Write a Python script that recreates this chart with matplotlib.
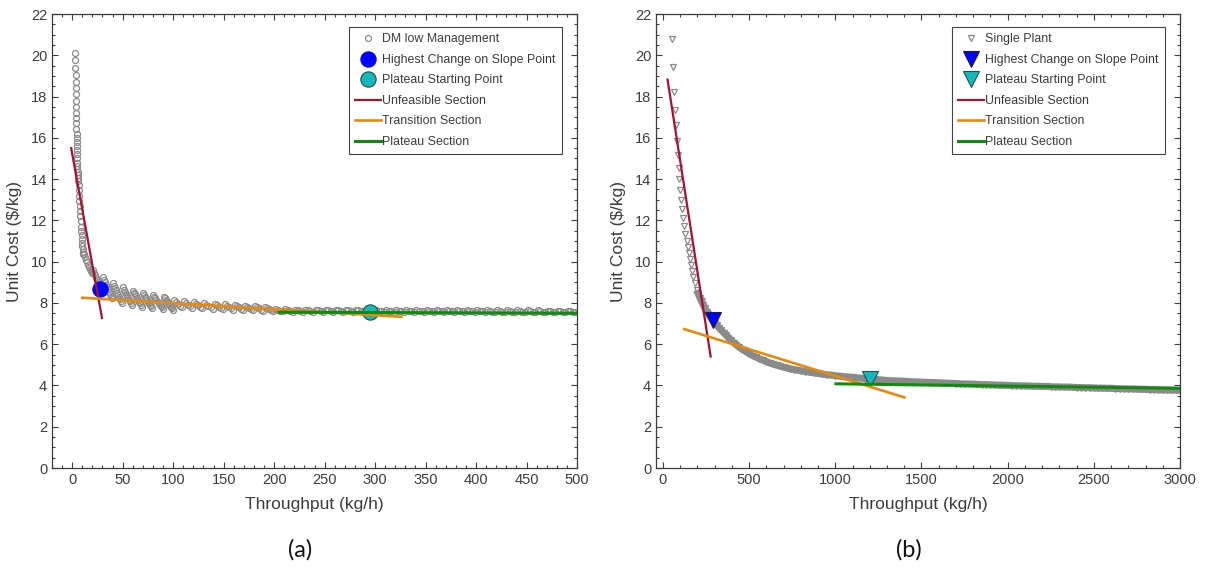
import matplotlib
matplotlib.use("Agg")
import matplotlib.pyplot as plt
from matplotlib.ticker import MultipleLocator

plt.rcParams["font.family"] = ["Liberation Sans", "DejaVu Sans"]

# ---------------- panel (a): DM low Management ----------------
a_steep_x = [3.0, 3.1, 3.2, 3.3, 3.4, 3.5, 3.6, 3.7, 3.8, 3.9, 4.0, 4.1, 4.2,
             4.3, 4.4, 4.5, 4.6, 4.7, 4.8, 4.9, 5.0, 5.1, 5.2, 5.3, 5.4, 5.5]
a_steep_y = [20.1, 19.75, 19.4, 19.05, 18.7, 18.4, 18.1, 17.8, 17.5, 17.2, 16.95,
             16.7, 16.45, 16.2, 16.0, 15.8, 15.6, 15.4, 15.2, 15.0, 14.8, 14.65,
             14.5, 14.35, 14.2, 14.05]
a_band_x = [6.0, 6.3, 6.6, 6.9, 7.2, 7.5, 7.8, 8.1, 8.4, 8.7, 9.0, 9.3, 9.6, 9.9,
            10.2, 10.5, 10.8, 11.1, 11.5, 12.5, 13.5, 14.5, 15.5, 16.5, 17.5,
            18.5, 19.5]
a_band_y = [13.9, 13.7, 13.45, 13.2, 12.95, 12.7, 12.45, 12.2, 11.95, 11.7, 11.5,
            11.3, 11.1, 10.9, 10.75, 10.6, 10.45, 10.35, 10.35, 10.22, 10.1, 9.98,
            9.86, 9.75, 9.64, 9.53, 9.43]
a_teeth_x = [20.5, 21.5, 22.5, 23.5, 24.5, 25.5, 26.5, 27.5, 28.5, 29.5,
             30.5, 31.5, 32.5, 33.5, 34.5, 35.5, 36.5, 37.5, 38.5, 39.5,
             40.5, 41.5, 42.5, 43.5, 44.5, 45.5, 46.5, 47.5, 48.5, 49.5,
             50.5, 51.5, 52.5, 53.5, 54.5, 55.5, 56.5, 57.5, 58.5, 59.5,
             60.5, 61.5, 62.5, 63.5, 64.5, 65.5, 66.5, 67.5, 68.5, 69.5,
             70.5, 71.5, 72.5, 73.5, 74.5, 75.5, 76.5, 77.5, 78.5, 79.5,
             80.5, 81.5, 82.5, 83.5, 84.5, 85.5, 86.5, 87.5, 88.5, 89.5,
             90.5, 91.5, 92.5, 93.5, 94.5, 95.5, 96.5, 97.5, 98.5, 99.5]
a_teeth_y = [9.60, 9.47, 9.35, 9.23, 9.12, 9.01, 8.90, 8.80, 8.70, 8.60,
             9.25, 9.12, 9.00, 8.88, 8.77, 8.66, 8.55, 8.45, 8.35, 8.25,
             8.95, 8.83, 8.72, 8.61, 8.50, 8.40, 8.30, 8.20, 8.10, 8.00,
             8.75, 8.64, 8.54, 8.44, 8.34, 8.25, 8.16, 8.07, 7.98, 7.90,
             8.60, 8.50, 8.41, 8.32, 8.23, 8.14, 8.06, 7.98, 7.90, 7.82,
             8.48, 8.39, 8.31, 8.22, 8.14, 8.06, 7.98, 7.91, 7.84, 7.77,
             8.38, 8.30, 8.22, 8.14, 8.06, 7.99, 7.92, 7.85, 7.78, 7.72,
             8.30, 8.22, 8.14, 8.07, 8.00, 7.93, 7.86, 7.79, 7.73, 7.67]
a_mid_x = [101, 103, 105, 107, 109, 111, 113, 115, 117, 119,
           121, 123, 125, 127, 129, 131, 133, 135, 137, 139,
           141, 143, 145, 147, 149, 151, 153, 155, 157, 159,
           161, 163, 165, 167, 169, 171, 173, 175, 177, 179,
           181, 183, 185, 187, 189, 191, 193, 195, 197, 199]
a_mid_y = [8.12, 8.03, 7.94, 7.86, 7.78, 8.08, 7.99, 7.91, 7.83, 7.76,
           8.04, 7.96, 7.88, 7.81, 7.74, 8.00, 7.92, 7.85, 7.78, 7.72,
           7.96, 7.89, 7.82, 7.76, 7.70, 7.93, 7.86, 7.80, 7.74, 7.68,
           7.90, 7.84, 7.78, 7.72, 7.66, 7.87, 7.81, 7.75, 7.70, 7.64,
           7.84, 7.78, 7.73, 7.68, 7.62, 7.82, 7.76, 7.71, 7.66, 7.60]
a_flat_x = [201, 203.5, 206, 208.5, 211, 213.5, 216, 218.5, 221, 223.5, 226, 228.5,
            231, 233.5, 236, 238.5, 241, 243.5, 246, 248.5, 251, 253.5, 256, 258.5,
            261, 263.5, 266, 268.5, 271, 273.5, 276, 278.5, 281, 283.5, 286, 288.5,
            291, 293.5, 296, 298.5, 301, 303.5, 306, 308.5, 311, 313.5, 316, 318.5,
            321, 323.5, 326, 328.5, 331, 333.5, 336, 338.5, 341, 343.5, 346, 348.5,
            351, 353.5, 356, 358.5, 361, 363.5, 366, 368.5, 371, 373.5, 376, 378.5,
            381, 383.5, 386, 388.5, 391, 393.5, 396, 398.5, 401, 403.5, 406, 408.5,
            411, 413.5, 416, 418.5, 421, 423.5, 426, 428.5, 431, 433.5, 436, 438.5,
            441, 443.5, 446, 448.5, 451, 453.5, 456, 458.5, 461, 463.5, 466, 468.5,
            471, 473.5, 476, 478.5, 481, 483.5, 486, 488.5, 491, 493.5, 496, 498.5]
a_flat_y = [7.70, 7.66, 7.62, 7.59, 7.69, 7.65, 7.61, 7.58, 7.68, 7.64, 7.61, 7.58,
            7.68, 7.64, 7.61, 7.58, 7.68, 7.64, 7.61, 7.58, 7.68, 7.64, 7.61, 7.58,
            7.67, 7.64, 7.61, 7.58, 7.67, 7.64, 7.61, 7.58, 7.67, 7.64, 7.61, 7.58,
            7.67, 7.63, 7.60, 7.58, 7.67, 7.63, 7.60, 7.57, 7.67, 7.63, 7.60, 7.57,
            7.66, 7.63, 7.60, 7.57, 7.66, 7.63, 7.60, 7.57, 7.66, 7.63, 7.60, 7.57,
            7.66, 7.62, 7.59, 7.57, 7.66, 7.62, 7.59, 7.56, 7.65, 7.62, 7.59, 7.56,
            7.65, 7.62, 7.59, 7.56, 7.65, 7.62, 7.59, 7.56, 7.65, 7.62, 7.59, 7.56,
            7.65, 7.61, 7.58, 7.56, 7.64, 7.61, 7.58, 7.55, 7.64, 7.61, 7.58, 7.55,
            7.64, 7.61, 7.58, 7.55, 7.64, 7.61, 7.58, 7.55, 7.64, 7.61, 7.58, 7.55,
            7.63, 7.60, 7.57, 7.55, 7.63, 7.60, 7.57, 7.55, 7.63, 7.60, 7.57, 7.54]
a_x = a_steep_x + a_band_x + a_teeth_x + a_mid_x + a_flat_x
a_y = a_steep_y + a_band_y + a_teeth_y + a_mid_y + a_flat_y

a_slope_pt = (28, 8.65)
a_plateau_pt = (295, 7.58)
a_unfeasible = ([-1, 29.5], [15.5, 7.27])
a_transition = ([10, 326], [8.25, 7.33])
a_plateau = ([205, 500], [7.55, 7.5])

# ---------------- panel (b): Single Plant ----------------
b_x = [54, 60, 66, 71, 76, 81, 86, 91, 96, 101, 107, 113, 119, 125, 131, 137,
       143, 149, 155, 162, 169, 176, 185, 195, 204, 214, 224, 234, 244, 254,
       264, 276, 288, 300, 312, 325, 338, 352, 366, 380, 395, 410, 425, 440,
       455, 470, 485, 500, 520, 540, 560, 580, 600, 620, 640, 660, 680, 700,
       720, 740, 760, 780, 800, 825, 850, 875, 900, 925, 950, 975, 1000, 1025,
       1050, 1075, 1100, 1125, 1150, 1175, 1200, 1225, 1250, 1275, 1300, 1325,
       1350, 1375, 1400, 1425, 1450, 1475, 1500, 1525, 1550, 1575, 1600, 1625,
       1650, 1675, 1700, 1725, 1750, 1775, 1800, 1825, 1850, 1875, 1900, 1925,
       1950, 1975, 2000, 2025, 2050, 2075, 2100, 2125, 2150, 2175, 2200, 2225,
       2250, 2275, 2300, 2325, 2350, 2375, 2400, 2425, 2450, 2475, 2500, 2525,
       2550, 2575, 2600, 2625, 2650, 2675, 2700, 2725, 2750, 2775, 2800, 2825,
       2850, 2875, 2900, 2925, 2950, 2975, 3000]
b_y = [20.78, 19.43, 18.2, 17.37, 16.6, 15.85, 15.15, 14.55, 14.0, 13.48, 13.0,
       12.55, 12.1, 11.72, 11.36, 11.0, 10.69, 10.4, 10.12, 9.83, 9.56, 9.26,
       8.95, 8.62, 8.45, 8.25, 8.07, 7.9, 7.73, 7.57, 7.45, 7.3, 7.17, 7.05,
       6.93, 6.8, 6.68, 6.56, 6.44, 6.32, 6.2, 6.08, 5.97, 5.87, 5.78, 5.7,
       5.62, 5.54, 5.45, 5.37, 5.29, 5.22, 5.15, 5.09, 5.03, 4.98, 4.93, 4.88,
       4.84, 4.8, 4.77, 4.74, 4.71, 4.67, 4.64, 4.61, 4.58, 4.55, 4.52, 4.5,
       4.47, 4.45, 4.43, 4.41, 4.39, 4.37, 4.35, 4.33, 4.31, 4.3, 4.28, 4.26,
       4.24, 4.23, 4.22, 4.21, 4.2, 4.19, 4.18, 4.17, 4.16, 4.15, 4.14, 4.14,
       4.13, 4.12, 4.11, 4.1, 4.09, 4.08, 4.07, 4.07, 4.06, 4.05, 4.04, 4.04,
       4.03, 4.02, 4.01, 4.01, 4.0, 3.99, 3.99, 3.98, 3.98, 3.97, 3.96, 3.96,
       3.95, 3.95, 3.94, 3.93, 3.93, 3.92, 3.92, 3.91, 3.9, 3.9, 3.89, 3.89,
       3.88, 3.87, 3.87, 3.86, 3.86, 3.85, 3.84, 3.84, 3.83, 3.83, 3.82, 3.81,
       3.81, 3.8, 3.8, 3.79, 3.78, 3.78, 3.77, 3.77, 3.76]
b_dense_from = 23   # from here on the markers merge into a solid band

b_slope_pt = (291, 7.15)
b_plateau_pt = (1200, 4.31)
b_unfeasible = ([27, 277], [18.82, 5.4])
b_transition = ([124, 1401], [6.73, 3.42])
b_plateau = ([1004, 3000], [4.08, 3.86])

RED = "#A2142F"
ORANGE = "#E8890C"
GREEN = "#128A12"
BLUE = "#0000FF"
CYAN = "#17B8B8"
GRAY = "#8A8A8A"
TXT = "#3C3C3C"

fig = plt.figure(figsize=(12.05, 5.71), dpi=100)
ax_a = fig.add_axes([52 / 1205, 1 - 468 / 571, 525 / 1205, 454 / 571])
ax_b = fig.add_axes([656 / 1205, 1 - 468 / 571, 524 / 1205, 454 / 571])


def draw(ax, xs, ys, marker, name, slope_pt, plateau_pt, unf, tra, pla):
    h0, = ax.plot(xs, ys, ls="none", marker=marker, ms=4.3, mfc="none",
                  mec=GRAY, mew=0.9, zorder=2, label=name)
    h1, = ax.plot(*slope_pt, ls="none", marker=marker, ms=11, mfc=BLUE,
                  mec=BLUE if marker == "o" else "#222222", mew=0.8, zorder=3,
                  label="Highest Change on Slope Point")
    h2, = ax.plot(*plateau_pt, ls="none", marker=marker, ms=11, mfc=CYAN,
                  mec="#1f4f4f", mew=0.8, zorder=3,
                  label="Plateau Starting Point")
    h3, = ax.plot(*unf, color=RED, lw=1.6, zorder=4, label="Unfeasible Section")
    h4, = ax.plot(*tra, color=ORANGE, lw=1.9, zorder=4,
                  label="Transition Section")
    h5, = ax.plot(*pla, color=GREEN, lw=2.2, zorder=4, label="Plateau Section")
    leg = ax.legend(handles=[h0, h1, h2, h3, h4, h5], loc="upper right",
                    bbox_to_anchor=(0.971, 0.971), borderaxespad=0,
                    fontsize=8.9, frameon=True, fancybox=False, framealpha=1,
                    edgecolor="#444444", handlelength=2.1, handletextpad=0.12,
                    labelspacing=0.69, borderpad=0.5, numpoints=1)
    leg.get_frame().set_linewidth(0.8)
    for t in leg.get_texts():
        t.set_color(TXT)

    ax.set_ylim(0, 22)
    ax.yaxis.set_major_locator(MultipleLocator(2))
    ax.yaxis.set_minor_locator(MultipleLocator(0.5))
    ax.tick_params(which="both", direction="in", top=True, right=True,
                   colors=TXT, labelsize=10.5, width=0.8)
    ax.tick_params(which="major", length=4)
    ax.tick_params(which="minor", length=2.2)
    for s in ax.spines.values():
        s.set_color(TXT)
        s.set_linewidth(0.9)
    ax.set_xlabel("Throughput (kg/h)", fontsize=12.5, color=TXT, labelpad=7)
    ax.set_ylabel("Unit Cost ($/kg)", fontsize=12.5, color=TXT, labelpad=6)


draw(ax_a, a_x, a_y, "o", "DM low Management", a_slope_pt, a_plateau_pt,
     a_unfeasible, a_transition, a_plateau)
ax_a.set_xlim(-20, 500)
ax_a.xaxis.set_major_locator(MultipleLocator(50))
ax_a.xaxis.set_minor_locator(MultipleLocator(10))

draw(ax_b, b_x, b_y, "v", "Single Plant", b_slope_pt, b_plateau_pt,
     b_unfeasible, b_transition, b_plateau)
# the dense part of the series renders as a solid gray band
ax_b.plot(b_x[b_dense_from:], b_y[b_dense_from:], color=GRAY, lw=5,
          solid_capstyle="butt", zorder=1.9)
ax_b.set_xlim(-40, 3000)
ax_b.xaxis.set_major_locator(MultipleLocator(500))
ax_b.xaxis.set_minor_locator(MultipleLocator(100))

fig.text(300 / 1205, 1 - 550 / 571, "(a)", fontsize=17, family="Lato",
         ha="center", va="center", color="#111111")
fig.text(909 / 1205, 1 - 550 / 571, "(b)", fontsize=17, family="Lato",
         ha="center", va="center", color="#111111")

fig.savefig("out.png", dpi=100, facecolor="white")
